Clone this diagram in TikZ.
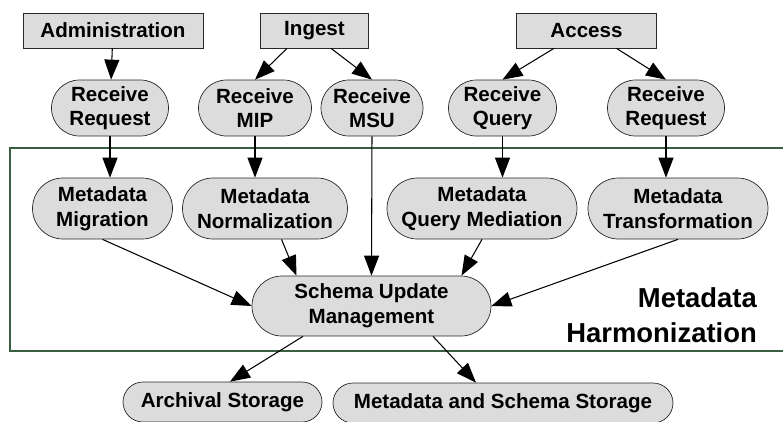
\documentclass[tikz,border=0pt]{standalone}
\usepackage{fontspec}
\setmainfont{Liberation Sans}
\usetikzlibrary{arrows.meta}
\usetikzlibrary{calc}

\definecolor{boxfill}{RGB}{220,220,220}
\definecolor{boxline}{RGB}{40,40,40}
\definecolor{groupline}{RGB}{56,96,64}

\begin{document}
\begin{tikzpicture}[font = \fontsize{11.7}{14}\selectfont\bfseries,
    ext/.style = {draw=boxline, fill=boxfill, inner sep=0pt, minimum height=0.7cm},
    proc/.style = {draw=boxline, fill=boxfill, align=center, inner sep=0pt,
                   minimum height=#1, rounded corners=#1/2},
    arr/.style = {-{Triangle[length=0.4cm, width=0.3cm]}, line width=0.6pt}]
    \useasboundingbox (0,0) rectangle (15.66,-8.42);

    % the harmonization group
    \draw[groupline, line width=0.8pt] (0.2,-2.96) rectangle (15.9,-7.02);
    \node[anchor=east, align=right, font=\fontsize{15.6}{19.9}\selectfont\bfseries] (mh) at (15.26,-6.3) {Metadata\\Harmonization};

    % sources
    \node[ext, minimum width=3.6cm] (adm) at (2.26,-0.61) {Administration};
    \node[ext, minimum width=2.16cm] (ing) at (6.29,-0.61) {Ingest};
    \node[ext, minimum width=2.8cm] (acc) at (11.73,-0.61) {Access};

    % receivers
    \node[proc=1.12cm, minimum width=2.34cm] (rreqa) at (2.2,-2.16) {Receive\\Request};
    \node[proc=1.12cm, minimum width=2.26cm] (rmip) at (5.1,-2.16) {Receive\\MIP};
    \node[proc=1.12cm, minimum width=2.04cm] (rmsu) at (7.44,-2.16) {Receive\\MSU};
    \node[proc=1.12cm, minimum width=2.16cm] (rqry) at (10.05,-2.16) {Receive\\Query};
    \node[proc=1.12cm, minimum width=2.34cm] (rreqb) at (13.32,-2.16) {Receive\\Request};

    % metadata functions
    \node[proc=1.22cm, minimum width=2.8cm] (mmig) at (2.05,-4.17) {Metadata\\Migration};
    \node[proc=1.22cm, minimum width=3.3cm] (mnorm) at (5.3,-4.17) {Metadata\\Normalization};
    \node[proc=1.22cm, minimum width=3.8cm] (mqm) at (9.64,-4.17) {Metadata\\Query Mediation};
    \node[proc=1.22cm, minimum width=3.6cm] (mtrans) at (13.56,-4.17) {Metadata\\Transformation};

    \node[proc=1.2cm, minimum width=4.78cm] (sum) at (7.43,-6.12) {Schema Update\\Management};

    % storage
    \node[proc=0.8cm, minimum width=3.98cm] (arch) at (4.45,-8.04) {Archival Storage};
    \node[proc=0.8cm, minimum width=6.8cm] (mss) at (10.06,-8.06) {Metadata and Schema Storage};

    \draw[arr] (adm) -- (rreqa);
    \draw[arr] ([xshift=-0.55cm]ing.south) -- (rmip.north);
    \draw[arr] ([xshift=0.33cm]ing.south) -- (rmsu.north);
    \draw[arr] ([xshift=-0.65cm]acc.south) -- (rqry.north);
    \draw[arr] ([xshift=0.6cm]acc.south) -- (rreqb.north);

    \draw[arr] (rreqa.south) -- (rreqa.south |- mmig.north);
    \draw[arr] (rmip.south) -- (rmip.south |- mnorm.north);
    \draw[arr] (rqry.south) -- (rqry.south |- mqm.north);
    \draw[arr] (rreqb.south) -- (rreqb.south |- mtrans.north);

    \draw[arr] (mmig.south) -- (sum.west);
    \draw[arr] ([xshift=0.33cm]mnorm.south) -- ([xshift=-1.5cm]sum.north);
    \draw[arr] (rmsu.south) -- (sum.north);
    \draw[arr] (mqm.south) -- ([xshift=1.8cm]sum.north);
    \draw[arr] (mtrans.south) -- (sum.east);

    \draw[arr] ([xshift=-1.37cm]sum.south) -- ([xshift=0.15cm]arch.north);
    \draw[arr] ([xshift=1.23cm]sum.south) -- ([xshift=-0.54cm]mss.north);

\end{tikzpicture}
\end{document}
